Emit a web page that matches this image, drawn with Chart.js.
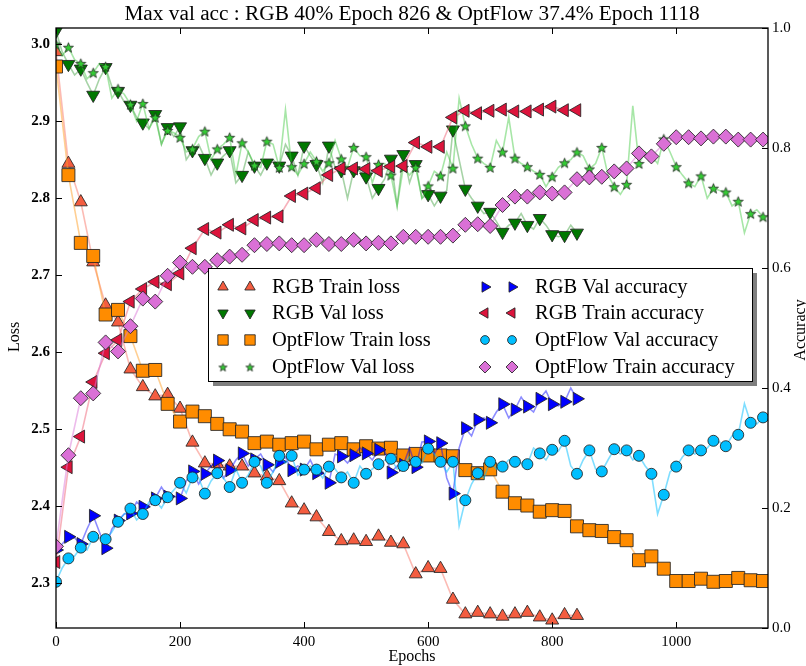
<!DOCTYPE html>
<html>
<head>
<meta charset="utf-8">
<script src="https://cdn.jsdelivr.net/npm/chart.js@4.4.0/dist/chart.umd.min.js"></script>
<style>
  html, body { margin: 0; padding: 0; background: #fff; }
  #wrap { width: 806px; height: 666px; }
</style>
</head>
<body>
<div id="wrap"><canvas id="c" width="806" height="666"></canvas></div>
<script>
/* ── data (markers every 20 epochs, mids = line values at the 10-epoch points between) ── */
const markEvery = 20;
const xTicks = [0, 200, 400, 600, 800, 1000];
const lossTicks = [2.3, 2.4, 2.5, 2.6, 2.7, 2.8, 2.9, 3.0];
const accTicks = [0.0, 0.2, 0.4, 0.6, 0.8, 1.0];
const titleText = 'Max val acc : RGB 40% Epoch 826 & OptFlow 37.4% Epoch 1118';
const seriesNames = ['RGB Train loss', 'RGB Val loss', 'OptFlow Train loss', 'OptFlow Val loss',
  'RGB Val accuracy', 'RGB Train accuracy', 'OptFlow Val accuracy', 'OptFlow Train accuracy'];

const rgbTrainLoss = [2.990, 2.845, 2.795, 2.717, 2.661, 2.639, 2.578, 2.555, 2.543, 2.545,
  2.527, 2.483, 2.456, 2.455, 2.452, 2.452, 2.443, 2.439, 2.433, 2.404,
  2.395, 2.386, 2.367, 2.355, 2.356, 2.354, 2.361, 2.353, 2.351, 2.312,
  2.320, 2.319, 2.279, 2.260, 2.262, 2.260, 2.257, 2.260, 2.262, 2.256,
  2.252, 2.259, 2.258];
const rgbValLoss = [3.017, 2.974, 2.968, 2.934, 2.970, 2.939, 2.921, 2.898, 2.909, 2.892,
  2.893, 2.862, 2.852, 2.846, 2.862, 2.830, 2.842, 2.846, 2.842, 2.855,
  2.868, 2.844, 2.868, 2.836, 2.836, 2.828, 2.813, 2.851, 2.857, 2.844,
  2.805, 2.803, 2.889, 2.812, 2.790, 2.782, 2.756, 2.768, 2.765, 2.774,
  2.753, 2.752, 2.755];
const rgbValLossMid = [2.99, 2.96, 2.95, 2.955, 2.945, 2.925, 2.905, 2.89, 2.87, 2.88,
  2.85, 2.87, 2.83, 2.855, 2.82, 2.86, 2.83, 2.85, 2.87, 2.83,
  2.855, 2.82, 2.84, 2.80, 2.835, 2.80, 2.825, 2.79, 2.82, 2.80,
  2.79, 2.81, 2.85, 2.80, 2.78, 2.77, 2.765, 2.78, 2.76, 2.765,
  2.75, 2.765];
const optTrainLoss = [2.971, 2.830, 2.742, 2.725, 2.649, 2.655, 2.621, 2.576, 2.577, 2.533,
  2.510, 2.523, 2.517, 2.507, 2.500, 2.497, 2.482, 2.484, 2.480, 2.482,
  2.484, 2.474, 2.480, 2.482, 2.474, 2.478, 2.475, 2.476, 2.466, 2.468,
  2.466, 2.466, 2.465, 2.447, 2.443, 2.448, 2.419, 2.404, 2.401, 2.393,
  2.395, 2.394, 2.374, 2.369, 2.368, 2.360, 2.356, 2.330, 2.335, 2.319,
  2.303, 2.303, 2.306, 2.302, 2.303, 2.307, 2.304, 2.303];
const optValLoss = [3.000, 2.996, 2.975, 2.963, 2.971, 2.942, 2.922, 2.923, 2.905, 2.888,
  2.879, 2.864, 2.887, 2.864, 2.879, 2.872, 2.843, 2.874, 2.840, 2.841,
  2.845, 2.848, 2.846, 2.851, 2.866, 2.854, 2.844, 2.830, 2.840, 2.840,
  2.816, 2.829, 2.839, 2.894, 2.852, 2.840, 2.860, 2.852, 2.841, 2.831,
  2.828, 2.846, 2.860, 2.838, 2.866, 2.815, 2.818, 2.845, 2.855, 2.877,
  2.841, 2.820, 2.829, 2.813, 2.808, 2.796, 2.780, 2.776];
const optValLossMid = [2.985, 2.98, 2.955, 2.975, 2.93, 2.935, 2.90, 2.89, 2.87, 2.885,
  2.86, 2.88, 2.85, 2.87, 2.83, 2.86, 2.84, 2.87, 2.915, 2.83,
  2.86, 2.835, 2.875, 2.84, 2.855, 2.82, 2.845, 2.79, 2.83, 2.80,
  2.835, 2.86, 2.93, 2.87, 2.845, 2.875, 2.905, 2.845, 2.835, 2.815,
  2.84, 2.85, 2.855, 2.845, 2.83, 2.805, 2.92, 2.86, 2.845, 2.86,
  2.83, 2.815, 2.80, 2.81, 2.79, 2.755, 2.785];

const rgbValAcc = [0.130, 0.152, 0.140, 0.187, 0.133, 0.179, 0.191, 0.202, 0.216, 0.219,
  0.216, 0.261, 0.257, 0.279, 0.263, 0.291, 0.281, 0.272, 0.277, 0.263,
  0.264, 0.258, 0.242, 0.286, 0.288, 0.291, 0.297, 0.259, 0.272, 0.268,
  0.311, 0.308, 0.224, 0.333, 0.347, 0.342, 0.373, 0.364, 0.369, 0.382,
  0.373, 0.377, 0.382];
const rgbValAccMid = [0.14, 0.15, 0.165, 0.16, 0.165, 0.19, 0.21, 0.205, 0.235, 0.22,
  0.245, 0.24, 0.27, 0.25, 0.28, 0.27, 0.29, 0.26, 0.285, 0.27,
  0.28, 0.26, 0.29, 0.275, 0.30, 0.28, 0.295, 0.27, 0.30, 0.31,
  0.29, 0.25, 0.30, 0.32, 0.35, 0.36, 0.35, 0.385, 0.36, 0.395,
  0.37, 0.40];
const rgbTrainAcc = [0.110, 0.268, 0.319, 0.410, 0.458, 0.480, 0.544, 0.565, 0.577, 0.573,
  0.591, 0.633, 0.665, 0.659, 0.672, 0.666, 0.680, 0.684, 0.686, 0.720,
  0.724, 0.733, 0.755, 0.766, 0.766, 0.765, 0.762, 0.769, 0.770, 0.809,
  0.802, 0.802, 0.851, 0.862, 0.858, 0.862, 0.864, 0.861, 0.861, 0.864,
  0.869, 0.863, 0.863];
const optValAcc = [0.077, 0.116, 0.134, 0.152, 0.148, 0.177, 0.199, 0.190, 0.213, 0.218,
  0.242, 0.251, 0.224, 0.258, 0.235, 0.242, 0.277, 0.242, 0.287, 0.287,
  0.264, 0.264, 0.269, 0.251, 0.242, 0.257, 0.273, 0.282, 0.270, 0.277,
  0.299, 0.277, 0.277, 0.213, 0.258, 0.277, 0.269, 0.277, 0.273, 0.291,
  0.297, 0.312, 0.257, 0.296, 0.261, 0.298, 0.296, 0.287, 0.257, 0.222,
  0.269, 0.296, 0.296, 0.312, 0.303, 0.322, 0.342, 0.351];
const optValAccMid = [0.10, 0.12, 0.13, 0.15, 0.16, 0.19, 0.18, 0.21, 0.20, 0.23,
  0.225, 0.25, 0.245, 0.25, 0.265, 0.255, 0.27, 0.26, 0.275, 0.255,
  0.27, 0.25, 0.265, 0.26, 0.27, 0.265, 0.28, 0.265, 0.285, 0.275,
  0.29, 0.26, 0.17, 0.24, 0.25, 0.265, 0.28, 0.275, 0.30, 0.28,
  0.295, 0.27, 0.28, 0.265, 0.28, 0.29, 0.28, 0.27, 0.19, 0.26,
  0.285, 0.29, 0.30, 0.31, 0.32, 0.374, 0.34];
const optTrainAcc = [0.136, 0.288, 0.383, 0.391, 0.476, 0.461, 0.503, 0.549, 0.544, 0.587,
  0.609, 0.602, 0.602, 0.613, 0.619, 0.622, 0.638, 0.640, 0.641, 0.638,
  0.638, 0.647, 0.640, 0.640, 0.647, 0.641, 0.642, 0.641, 0.652, 0.652,
  0.652, 0.652, 0.654, 0.672, 0.673, 0.670, 0.705, 0.719, 0.719, 0.726,
  0.724, 0.726, 0.748, 0.751, 0.752, 0.761, 0.766, 0.791, 0.786, 0.807,
  0.818, 0.818, 0.816, 0.819, 0.819, 0.814, 0.814, 0.814];

/* ── styles ── */
const FONT = '"Liberation Serif", "DejaVu Serif", serif';
const EDGE = 'rgba(35,35,35,0.85)';

function starImage(fill, size) {
  const c = document.createElement('canvas');
  c.width = c.height = size;
  const g = c.getContext('2d');
  const h = size / 2, ro = h - 1.2, ri = ro * 0.42;
  g.beginPath();
  for (let i = 0; i < 10; i++) {
    const r = i % 2 ? ri : ro;
    const a = -Math.PI / 2 + i * Math.PI / 5;
    g.lineTo(h + r * Math.cos(a), h + 0.6 + r * Math.sin(a));
  }
  g.closePath();
  g.fillStyle = fill; g.fill();
  g.strokeStyle = EDGE; g.lineWidth = 0.9; g.stroke();
  return c;
}

const series = [
  { vals: rgbTrainLoss, axis: 'y',  fill: '#f45d40', line: 'rgba(250,120,105,0.5)', style: 'triangle', rot: 0,   r: 7.5 },
  { vals: rgbValLoss, mids: rgbValLossMid, axis: 'y', fill: '#007800', line: 'rgba(0,128,0,0.35)', style: 'triangle', rot: 180, r: 7.5 },
  { vals: optTrainLoss, axis: 'y',  fill: '#ff8c00', line: 'rgba(255,160,40,0.5)', style: 'rect', rot: 0, r: 9.2 },
  { vals: optValLoss, mids: optValLossMid, axis: 'y', fill: '#33cc33', line: 'rgba(60,200,60,0.45)', style: starImage('#33cc33', 13), legendStyle: starImage('#33cc33', 11), rot: 0, r: 6 },
  { vals: rgbValAcc, mids: rgbValAccMid, axis: 'y1', fill: '#0000ff', line: 'rgba(0,0,255,0.45)', style: 'triangle', rot: 90, r: 7.5 },
  { vals: rgbTrainAcc, axis: 'y1', fill: '#dc143c', line: 'rgba(240,100,120,0.5)', style: 'triangle', rot: 270, r: 7.5 },
  { vals: optValAcc, mids: optValAccMid, axis: 'y1', fill: '#00bfff', line: 'rgba(0,190,255,0.5)', style: 'circle', rot: 0, r: 5.5 },
  { vals: optTrainAcc, axis: 'y1', fill: '#da70d6', line: 'rgba(220,120,215,0.5)', style: 'rectRot', rot: 0, r: 7.5 },
];

function markerPts(vals) { return vals.map(function (v, i) { return { x: i * markEvery, y: v }; }); }
function linePts(vals, mids) {
  if (!mids) return markerPts(vals);
  const out = [];
  vals.forEach(function (v, i) {
    out.push({ x: i * markEvery, y: v });
    if (i < mids.length) out.push({ x: i * markEvery + markEvery / 2, y: mids[i] });
  });
  return out;
}

const datasets = [];
series.forEach(function (s, i) {
  datasets.push({
    label: seriesNames[i] + ' line', data: linePts(s.vals, s.mids), yAxisID: s.axis,
    borderColor: s.line, borderWidth: 1.6, pointRadius: 0, fill: false, tension: 0,
    clip: 0, order: 100 - 2 * i,
  });
  datasets.push({
    label: seriesNames[i], data: markerPts(s.vals), yAxisID: s.axis, showLine: false,
    pointStyle: s.style, pointRotation: s.rot, pointRadius: s.r,
    pointBackgroundColor: s.fill, pointBorderColor: EDGE, pointBorderWidth: 1,
    clip: 0, order: 99 - 2 * i,
  });
});

function setTicks(list) { return function (scale) { scale.ticks = list.map(function (v) { return { value: v }; }); }; }

/* ── frame, inward ticks, legend, title, axis labels ── */
const decor = {
  id: 'decor',
  afterDatasetsDraw(chart) {
    const ctx = chart.ctx, a = chart.chartArea, sc = chart.scales;
    ctx.save();
    ctx.strokeStyle = '#000';
    ctx.lineWidth = 1.3;
    ctx.strokeRect(a.left, a.top, a.right - a.left, a.bottom - a.top);
    ctx.lineWidth = 1;
    function seg(x1, y1, x2, y2) { ctx.beginPath(); ctx.moveTo(x1, y1); ctx.lineTo(x2, y2); ctx.stroke(); }
    xTicks.forEach(function (v) {
      const x = Math.round(sc.x.getPixelForValue(v)) + 0.5;
      seg(x, a.bottom, x, a.bottom - 6); seg(x, a.top, x, a.top + 6);
    });
    lossTicks.forEach(function (v) { const y = Math.round(sc.y.getPixelForValue(v)) + 0.5; seg(a.left, y, a.left + 6, y); });
    accTicks.forEach(function (v) { const y = Math.round(sc.y1.getPixelForValue(v)) + 0.5; seg(a.right, y, a.right - 6, y); });

    // legend
    const box = { l: 208, t: 268, r: 752, b: 381 };
    ctx.fillStyle = 'rgba(0,0,0,0.5)';
    ctx.fillRect(box.l + 5, box.t + 5, box.r - box.l, box.b - box.t);
    ctx.fillStyle = '#fff';
    ctx.fillRect(box.l, box.t, box.r - box.l, box.b - box.t);
    ctx.strokeStyle = '#000';
    ctx.lineWidth = 1;
    ctx.strokeRect(box.l + 0.5, box.t + 0.5, box.r - box.l, box.b - box.t);
    const rows = [287, 313, 340, 367];
    const cols = [{ m1: 223, m2: 250, tx: 272 }, { m1: 485, m2: 512, tx: 535 }];
    ctx.font = '20.5px ' + FONT;
    ctx.textBaseline = 'middle';
    ctx.textAlign = 'left';
    series.forEach(function (s, i) {
      const c = cols[Math.floor(i / 4)], y = rows[i % 4];
      [c.m1, c.m2].forEach(function (mx) {
        ctx.fillStyle = s.fill; ctx.strokeStyle = EDGE; ctx.lineWidth = 1;
        Chart.helpers.drawPoint(ctx, { pointStyle: s.legendStyle || s.style, radius: s.r * 0.8, rotation: s.rot, borderWidth: 1 }, mx, y);
      });
      ctx.fillStyle = '#000';
      ctx.fillText(seriesNames[i], c.tx, y + 1);
    });
    ctx.restore();
  },
  afterDraw(chart) {
    const ctx = chart.ctx, a = chart.chartArea;
    ctx.save();
    ctx.fillStyle = '#000';
    ctx.textAlign = 'center';
    ctx.textBaseline = 'middle';
    ctx.font = '21.3px ' + FONT;
    ctx.fillText(titleText, (a.left + a.right) / 2, 14);
    ctx.font = '16px ' + FONT;
    ctx.fillText('Epochs', (a.left + a.right) / 2, 657);
    ctx.translate(15, 337); ctx.rotate(-Math.PI / 2);
    ctx.fillText('Loss', 0, 0);
    ctx.setTransform(1, 0, 0, 1, 0, 0);
    ctx.translate(801, 330); ctx.rotate(-Math.PI / 2);
    ctx.fillText('Accuracy', 0, 0);
    ctx.restore();
  },
};

new Chart(document.getElementById('c'), {
  type: 'line',
  data: { datasets: datasets },
  plugins: [decor],
  options: {
    responsive: false,
    animation: false,
    events: [],
    devicePixelRatio: 1,
    layout: { padding: { top: 28, left: 0, right: 0, bottom: 0 } },
    plugins: { legend: { display: false }, tooltip: { enabled: false }, title: { display: false } },
    scales: {
      x: {
        type: 'linear', min: 0, max: 1148,
        afterBuildTicks: setTicks(xTicks),
        afterFit: function (s) { s.height = 38; },
        grid: { display: false, drawTicks: false }, border: { display: false },
        ticks: { color: '#000', font: { family: FONT, size: 15 }, padding: 5, maxRotation: 0,
          callback: function (v) { return String(v); } },
      },
      y: {
        type: 'linear', position: 'left', min: 2.242, max: 3.021,
        afterBuildTicks: setTicks(lossTicks),
        afterFit: function (s) { s.width = 56; },
        grid: { display: false, drawTicks: false }, border: { display: false },
        ticks: { color: '#000', font: { family: FONT, size: 15, weight: 'bold' }, padding: 6,
          callback: function (v) { return v.toFixed(1); } },
      },
      y1: {
        type: 'linear', position: 'right', min: 0, max: 1,
        afterBuildTicks: setTicks(accTicks),
        afterFit: function (s) { s.width = 38; },
        grid: { display: false, drawTicks: false }, border: { display: false },
        ticks: { color: '#000', font: { family: FONT, size: 15 }, padding: 4,
          callback: function (v) { return v.toFixed(1); } },
      },
    },
  },
});
</script>
</body>
</html>
